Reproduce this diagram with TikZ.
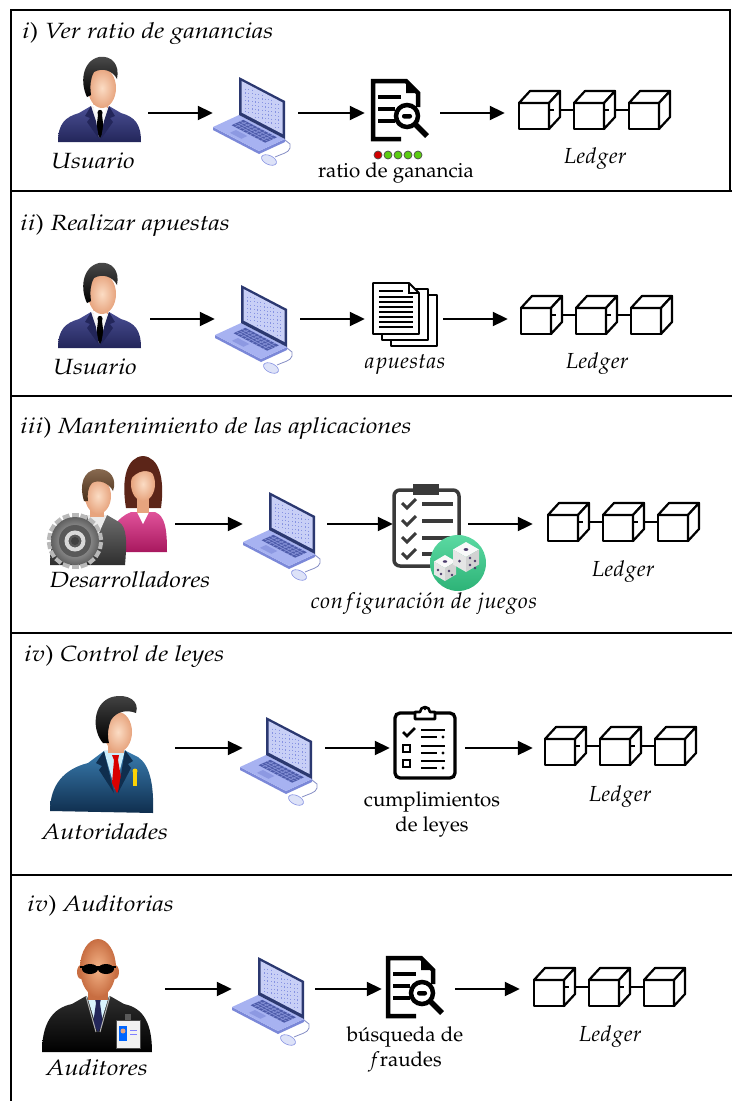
\documentclass[tikz,border=0pt]{standalone}
\usepackage[T1]{fontenc}
\usepackage{mathpazo}
\usetikzlibrary{arrows.meta,calc}

\definecolor{lapbase}{HTML}{A7B2F1}
\definecolor{lapedge}{HTML}{7B88D8}
\definecolor{lapkey}{HTML}{4D5BAA}
\definecolor{lapframe}{HTML}{2B3870}
\definecolor{lapscreen}{HTML}{C8CFF6}
\definecolor{lapbits}{HTML}{8793E2}
\definecolor{mousecol}{HTML}{DDE2F8}
\definecolor{skinL}{HTML}{FBDCC4}
\definecolor{skinD}{HTML}{E7A47E}
\definecolor{navyA}{HTML}{4A4F94}
\definecolor{navyB}{HTML}{23265A}
\definecolor{blueA}{HTML}{3A7DB0}
\definecolor{blueB}{HTML}{0F2E4E}
\definecolor{pinkA}{HTML}{E0529A}
\definecolor{pinkB}{HTML}{A8185E}
\definecolor{greyA}{HTML}{6E6E6E}
\definecolor{greyB}{HTML}{2E2E2E}
\definecolor{baldL}{HTML}{F4B488}
\definecolor{baldD}{HTML}{C86E42}
\definecolor{hairbrown}{HTML}{6A4424}
\definecolor{hairred}{HTML}{5C2518}
\definecolor{clipgrey}{HTML}{3A3A3A}
\definecolor{diceA}{HTML}{5BD9A2}
\definecolor{diceB}{HTML}{2DB377}
\definecolor{pipcol}{HTML}{4A3B6A}
\definecolor{ledred}{HTML}{D10000}
\definecolor{ledgreen}{HTML}{5BCB12}

% wide italic lettering used for headings and role names
\newcommand\wide[1]{\scalebox{1.16}[1]{#1}}

\tikzset{
  frame/.style={line width=2.4pt},
  arr/.style={line width=2pt,-{Triangle[length=15pt,width=14pt]}},
  hubbox/.style={inner sep=0pt,minimum height=30pt,draw=none},
  lbl/.style={anchor=base,inner sep=0pt},
  rolelbl/.style={anchor=base,inner sep=0pt,font=\fontsize{22}{26}\selectfont\itshape},
  mathlbl/.style={anchor=base,inner sep=0pt,font=\fontsize{21.8}{26}\selectfont},
  ttl/.style={anchor=base west,inner sep=0pt,font=\fontsize{22}{26}\selectfont},
  cubeline/.style={line width=2.2pt,line join=round},
  % three chained blocks of the ledger
  pics/cubes/.style={code={
    \draw[cubeline] (33,7) -- (55,7) (88,7) -- (110,7);
    \foreach \k in {0,1,2}{
      \begin{scope}[xshift=55*\k]
        \filldraw[cubeline,fill=white] (0,0) rectangle (30,26);
        \filldraw[cubeline,fill=white] (0,0) -- (11,-12) -- (41,-12) -- (30,0) -- cycle;
        \filldraw[cubeline,fill=white] (30,0) -- (41,-12) -- (41,14) -- (30,26) -- cycle;
      \end{scope}}
    \draw[cubeline] (30,7) -- (35,7) (85,7) -- (90,7);
  }},
  % laptop with mouse, origin at top left
  pics/laptop/.style={code={
    \draw[lapbits!70!gray,line width=0.8pt] (72,65) -- (77,69) -- (77,73) .. controls (76,78) and (68,79) .. (62,82);
    \filldraw[fill=mousecol,draw=lapbits,line width=0.6pt,rotate around={-25:(56,85)}] (56,85) ellipse [x radius=8,y radius=4.5];
    \fill[lapedge] (0,52) -- (46,76) -- (72,64) -- (72,67) -- (46,79) -- (0,55) -- cycle;
    \fill[lapbase] (0,52) -- (26,40) -- (72,64) -- (46,76) -- cycle;
    \fill[lapkey] (18.6,50.2) -- (30.3,44.8) -- (63.9,62.3) -- (52.2,67.7) -- cycle;
    \foreach \s in {0.56,0.67,0.78}
      \draw[lapbase!60!lapkey,line width=0.7pt] ({26*\s+6.9},{52-12*\s+3.6}) -- ({26*\s+40.5},{52-12*\s+21.1});
    \foreach \t in {0.23,0.31,...,0.85}
      \draw[lapbase!60!lapkey,line width=0.7pt] ({11.7+46*\t},{46.6+24*\t}) -- ({23.4+46*\t},{41.2+24*\t});
    \fill[lapedge!60!lapbase] (16.9,57.8) -- (22.9,55.0) -- (34.4,61.0) -- (28.4,63.8) -- cycle;
    \fill[lapframe] (26,40) -- (72,64) -- (72,26) -- (26,2) -- cycle;
    \fill[lapscreen] (28.5,37.5) -- (69.5,59) -- (69.5,27.5) -- (28.5,6) -- cycle;
    \foreach \u [count=\i] in {0.1,0.18,...,0.92}
      \draw[lapbits,line width=0.9pt,dash pattern=on 1.2pt off 2.6pt,dash phase=\i*1.3pt]
        ({28.5+41*\u},{9+21.5*\u}) -- ({28.5+41*\u},{34.5+21.5*\u});
  }},
  % document with magnifier, origin at centre
  pics/docsearch/.style={code={
    \fill[black] (6,-29) -- (6,-17) -- (18,-17) -- cycle;
    \draw[line width=4.5pt,line join=miter] (1,29) -- (-27,29) -- (-27,-29) -- (6,-29) -- (18,-17) -- (18,-3);
    \draw[line width=4pt] (-22,-13) -- (1,-13) (-22,-1) -- (-5,-1) (-22,11) -- (-5,11);
    \draw[line width=4.5pt,fill=white] (7,6) circle [radius=11];
    \fill[black,rounded corners=2pt] (2,4) rectangle (12,8.5);
    \draw[line width=5.5pt] (15,14) -- (27,26);
  }},
  % stack of sheets, origin at top left
  pics/sheets/.style={code={
    \filldraw[fill=white,line width=1.8pt,line join=round] (18,12) rectangle (64,63);
    \filldraw[fill=white,line width=1.8pt,line join=round] (9,6) rectangle (55,57);
    \filldraw[fill=white,line width=1.8pt,line join=round] (0,0) -- (36,0) -- (46,10) -- (46,51) -- (0,51) -- cycle;
    \draw[line width=1.5pt] (36,0) -- (36,10) -- (46,10);
    \draw[line width=1.6pt] (6,8) -- (30,8);
    \foreach \y in {14,19,...,45} \draw[line width=1.6pt] (6,\y) -- (40,\y);
  }},
  % checklist with dice, origin at top left
  pics/checklist/.style={code={
    \draw[clipgrey,line width=3.5pt,fill=white,rounded corners=6pt] (1,6) rectangle (66,82);
    \fill[clipgrey] (20,0) rectangle (46,11);
    \foreach \y in {19,36,53,69}{
      \draw[clipgrey,line width=3pt] (9,\y) -- (14,\y+5) -- (23,\y-4);
      \draw[clipgrey,line width=3.5pt] (29,\y+1) -- (60,\y+1);}
    \shade[top color=diceA,bottom color=diceB] (65,79) circle [radius=28];
    \begin{scope}[shift={(52,84)}]
      \fill[white!95!gray] (0,-13) -- (11,-6.5) -- (0,0) -- (-11,-6.5) -- cycle;
      \fill[gray!20] (-11,-6.5) -- (0,0) -- (0,13) -- (-11,6.5) -- cycle;
      \fill[gray!35] (0,0) -- (11,-6.5) -- (11,6.5) -- (0,13) -- cycle;
      \fill[pipcol] (0,-6.5) ellipse [x radius=2.2,y radius=1.3];
      \fill[pipcol] (-7,2) circle [radius=1.3] (-4,6) circle [radius=1.3] (4,3) circle [radius=1.3] (7,7) circle [radius=1.3];
    \end{scope}
    \begin{scope}[shift={(73,73)}]
      \fill[white!95!gray] (0,-15) -- (13,-7.5) -- (0,0) -- (-13,-7.5) -- cycle;
      \fill[gray!20] (-13,-7.5) -- (0,0) -- (0,15) -- (-13,7.5) -- cycle;
      \fill[gray!35] (0,0) -- (13,-7.5) -- (13,7.5) -- (0,15) -- cycle;
      \fill[pipcol] (0,-7.5) ellipse [x radius=2.4,y radius=1.4];
      \fill[pipcol] (-6.5,4) circle [radius=1.5];
      \fill[pipcol] (4,1) circle [radius=1.3] (9,4) circle [radius=1.3] (4,8) circle [radius=1.3] (9,11) circle [radius=1.3];
    \end{scope}
  }},
  % clipboard with law items, origin at top left
  pics/lawlist/.style={code={
    \draw[line width=3.3pt,fill=white,rounded corners=5pt] (2,10) rectangle (62,75);
    \filldraw[fill=white,line width=2.6pt,line join=round] (22,16) -- (22,9) -- (27,9) arc [start angle=180,end angle=360,radius=5] -- (42,9) -- (42,16) -- cycle;
    \fill (32,6) circle [radius=1.3];
    \draw[line width=2.8pt] (10,29) -- (14,33) -- (22,25);
    \draw[line width=2.4pt] (10,42) rectangle (17,49) (10,57) rectangle (17,64);
    \foreach \y in {27,43,58}{
      \draw[line width=2.6pt] (28,\y) -- (52,\y) (28,\y+7) -- (44,\y+7);
      \fill (50,\y+7) circle [radius=1.6];}
  }},
  % row of status lights
  pics/lights/.style={code={
    \filldraw[fill=ledred,draw=black!70,line width=0.7pt] (0,0) circle [radius=4];
    \foreach \i in {1,...,4}
      \filldraw[fill=ledgreen,draw=black!70,line width=0.7pt] (10*\i,0) circle [radius=4];
  }},
  % user in a suit, origin at face centre
  pics/user/.style={code={
    \shade[top color=navyA,bottom color=navyB] (-42,51) .. controls (-42,33) and (-35,26) .. (-21,22) -- (-9,15) -- (9,15) -- (21,22) .. controls (35,26) and (41,33) .. (41,51) -- cycle;
    \fill[white!92!gray] (-9,15) -- (-1,47) -- (9,15) -- cycle;
    \fill[skinD] (-7,6) rectangle (8,17);
    \fill[black] (-3,19) -- (3,19) -- (2,24) -- (4,40) -- (0,47) -- (-4,40) -- (-2,24) -- cycle;
    \fill[navyB] (-9,15) -- (-15,25) -- (-10,27) -- (-13,31) -- (-1,48) -- (-4,30) -- cycle;
    \fill[navyB] (9,15) -- (15,25) -- (10,27) -- (13,31) -- (1,48) -- (4,30) -- cycle;
    \fill[white] (-8,13) -- (-4,23) -- (0,17) -- (4,23) -- (8,13) -- (0,16) -- cycle;
    \shade[inner color=skinL,outer color=skinD] (2,-3) ellipse [x radius=14,y radius=20];
    \shade[top color=gray!60!black,bottom color=black] (-13,6) .. controls (-20,-8) and (-18,-30) .. (-1,-34) .. controls (12,-36) and (20,-26) .. (17,-12) .. controls (13,-20) and (3,-24) .. (-6,-19) .. controls (-10,-12) and (-10,-4) .. (-9,4) -- cycle;
  }},
  % two developers and a gear, origin at the man's face
  pics/developers/.style={code={
    \begin{scope}[shift={(46,-13)}]
      \fill[hairred] (-17,24) .. controls (-22,-6) and (-16,-27) .. (0,-28) .. controls (16,-27) and (22,-6) .. (18,24) -- cycle;
      \shade[top color=pinkA,bottom color=pinkB] (-34,68) .. controls (-34,44) and (-26,34) .. (-12,28) -- (12,28) .. controls (22,32) and (24,44) .. (24,68) -- cycle;
      \fill[white] (-6,28) -- (0,40) -- (6,28) -- cycle;
      \fill[skinD] (-6,14) rectangle (6,29);
      \shade[inner color=skinL,outer color=skinD] (0,0) ellipse [x radius=12,y radius=17];
      \fill[hairred] (-13,-4) .. controls (-12,-20) and (6,-26) .. (13,-8) .. controls (6,-16) and (-6,-14) .. (-13,-4) -- cycle;
    \end{scope}
    \shade[top color=greyA,bottom color=greyB] (-47,68) .. controls (-47,40) and (-38,30) .. (-22,25) -- (-10,18) -- (10,18) -- (22,25) .. controls (30,30) and (30,45) .. (28,68) -- cycle;
    \fill[gray!15] (-10,18) -- (-2,45) -- (10,18) -- cycle;
    \fill[skinD] (-7,8) rectangle (7,20);
    \shade[inner color=skinL,outer color=skinD] (1,-1) ellipse [x radius=13,y radius=18];
    \shade[top color=hairbrown!80!white,bottom color=hairbrown!70!black] (-13,4) .. controls (-18,-12) and (-14,-27) .. (1,-28) .. controls (14,-28) and (20,-18) .. (16,-6) .. controls (12,-14) and (2,-18) .. (-5,-14) .. controls (-9,-10) and (-10,-2) .. (-9,4) -- cycle;
    \begin{scope}[shift={(-22,44)}]
      \foreach \a in {0,20,...,340}
        \fill[gray!55,rotate=\a] (-3.5,-28) rectangle (3.5,-21);
      \shade[inner color=gray!40,outer color=gray!75!black] (0,0) circle [radius=24];
      \fill[gray!70!black] (0,0) circle [radius=16];
      \draw[gray!30,line width=4pt] (0,0) circle [radius=8.5];
      \fill[gray!50!black] (0,0) circle [radius=4];
    \end{scope}
  }},
  % official with red tie, origin at face centre
  pics/official/.style={code={
    \shade[top color=blueA,bottom color=blueB] (-66,78) .. controls (-66,52) and (-52,36) .. (-28,30) -- (-12,18) -- (8,17) -- (22,24) .. controls (34,32) and (38,52) .. (37,80) -- cycle;
    \fill[cyan!20!white] (-12,18) -- (-1,56) -- (9,17) -- cycle;
    \fill[red!85!black] (-4,22) -- (3,22) -- (2,27) -- (6,50) -- (1,60) -- (-4,50) -- (-2,27) -- cycle;
    \fill[blueB] (-12,18) -- (-20,30) -- (-14,33) -- (-17,37) -- (-2,60) -- cycle;
    \fill[blueB] (9,17) -- (17,28) -- (12,31) -- (15,35) -- (2,60) -- cycle;
    \fill[skinD] (-8,8) rectangle (8,20);
    \shade[inner color=skinL,outer color=skinD] (2,-1) ellipse [x radius=14,y radius=20];
    \shade[top color=gray!55!black,bottom color=black] (-13,10) .. controls (-24,-2) and (-24,-30) .. (-4,-36) .. controls (12,-40) and (24,-32) .. (20,-20) .. controls (10,-24) and (0,-21) .. (-5,-13) .. controls (-8,-6) and (-9,2) .. (-7,10) -- cycle;
    \fill[yellow!70!orange] (17,40) rectangle (21,53);
    \fill[yellow!70!orange] (19,38) circle [radius=2.5];
  }},
  % bald auditor with sunglasses and badge, origin at head centre
  pics/auditor/.style={code={
    \shade[top color=greyB,bottom color=black] (-56,80) .. controls (-56,52) and (-46,36) .. (-26,32) -- (-12,24) -- (12,24) -- (26,32) .. controls (46,36) and (54,52) .. (54,80) -- cycle;
    \fill[cyan!15!white] (-11,24) -- (0,60) -- (11,24) -- cycle;
    \fill[navyB] (-3,27) -- (3,27) -- (2,31) -- (5,52) -- (0,60) -- (-5,52) -- (-2,31) -- cycle;
    \draw[gray!60,line width=1pt] (-12,24) -- (-2,60) (12,24) -- (2,60);
    \fill[baldD] (-10,14) rectangle (10,28);
    \fill[baldD] (-17,0) ellipse [x radius=4,y radius=7] (17,0) ellipse [x radius=4,y radius=7];
    \shade[inner color=baldL,outer color=baldD] (0,-4) ellipse [x radius=18,y radius=29];
    \fill[black] (-8,-3) ellipse [x radius=8,y radius=5] (8,-3) ellipse [x radius=8,y radius=5];
    \draw[black,line width=1.5pt] (-18,-5) -- (18,-5);
    \begin{scope}[shift={(30,62)}]
      \fill[gray!70!black] (-3,-20) rectangle (3,-13);
      \filldraw[fill=gray!10,draw=gray!60!black,line width=1pt] (-12,-14) rectangle (12,14);
      \fill[blue!60!cyan] (-9,-8) rectangle (-1,7);
      \fill[skinD] (-5,-3) circle [radius=2.5];
      \draw[blue!50,line width=1pt] (2,-4) -- (9,-4) (2,0) -- (9,0);
    \end{scope}
  }},
}

% a box whose west and east sides end the connectors of a row
\newcommand\hub[4]{\node[hubbox,minimum width={(#3)-(#2)}] (#1) at ({((#2)+(#3))/2},#4) {};}

\begin{document}
\begin{tikzpicture}[x=1pt,y=-1pt,every node/.style={font=\fontsize{20.5}{24}\selectfont}]
\useasboundingbox (0,0) rectangle (732,1101);

% panel frame
\draw[frame] (11,1101) -- (11,10) -- (730,10) -- (730,191);
\foreach \y in {191,396,633,875} \draw[frame] (11,\y) -- (732,\y);

% ---------- i) ----------
\node[ttl] (t1) at (22,38) {\wide{$i$) \textit{Ver ratio de ganancias}}};
\hub{u1}{50}{148}{113} \hub{l1}{213}{298}{113} \hub{d1}{365}{440}{113} \hub{g1}{505}{700}{113}
\pic at (100,91) {user};
\pic at (213,75) {laptop};
\pic at (400,110) {docsearch};
\pic at (378,155) {lights};
\pic at (519,103) {cubes};
\node[rolelbl] (n1a) at (93,168) {\wide{Usuario}};
\node[lbl] (n1b) at (396,177) {ratio de ganancia};
\node[mathlbl] (n1c) at (595,163) {$Ledger$};
\draw[arr] (u1.east) -- (l1.west);
\draw[arr] (l1.east) -- (d1.west);
\draw[arr] (d1.east) -- (g1.west);

% ---------- ii) ----------
\node[ttl] (t2) at (20,230) {\wide{$ii$) \textit{Realizar apuestas}}};
\hub{u2}{50}{150}{319} \hub{l2}{215}{300}{319} \hub{d2}{365}{443}{319} \hub{g2}{508}{700}{319}
\pic at (100,297) {user};
\pic at (215,283) {laptop};
\pic at (373,283) {sheets};
\pic at (521,308) {cubes};
\node[rolelbl] (n2a) at (95,374) {\wide{Usuario}};
\node[mathlbl] (n2b) at (405,368) {$apuestas$};
\node[mathlbl] (n2c) at (597,368) {$Ledger$};
\draw[arr] (u2.east) -- (l2.west);
\draw[arr] (l2.east) -- (d2.west);
\draw[arr] (d2.east) -- (g2.west);

% ---------- iii) ----------
\node[ttl] (t3) at (20,433) {\wide{$iii$) \textit{Mantenimiento de las aplicaciones}}};
\hub{u3}{40}{175}{524} \hub{l3}{243}{327}{524} \hub{d3}{393}{468}{524} \hub{g3}{533}{710}{524}
\pic at (97,497) {developers};
\pic at (243,490) {laptop};
\pic at (393,484) {checklist};
\pic at (548,515) {cubes};
\node[rolelbl] (n3a) at (130,587) {\wide{Desarrolladores}};
\node[mathlbl] (n3b) at (424,608) {$configuraci\acute{o}n\ de\ juegos$};
\node[mathlbl] (n3c) at (623,576) {$Ledger$};
\draw[arr] (u3.east) -- (l3.west);
\draw[arr] (l3.east) -- (d3.west);
\draw[arr] (d3.east) -- (g3.west);

% ---------- iv) control ----------
\node[ttl] (t4) at (24,661) {\wide{$iv$) \textit{Control de leyes}}};
\hub{u4}{40}{175}{748} \hub{l4}{243}{325}{748} \hub{d4}{390}{465}{748} \hub{g4}{533}{710}{748}
\pic at (116,733) {official};
\pic at (240,715) {laptop};
\pic at (393,703) {lawlist};
\pic at (545,739) {cubes};
\node[rolelbl] (n4a) at (105,839) {\wide{Autoridades}};
\node[lbl] (n4b) at (432,806) {cumplimientos};
\node[lbl] (n4d) at (432,831) {de leyes};
\node[mathlbl] (n4c) at (620,801) {$Ledger$};
\draw[arr] (u4.east) -- (l4.west);
\draw[arr] (l4.east) -- (d4.west);
\draw[arr] (d4.east) -- (g4.west);

% ---------- iv) audits ----------
\node[ttl] (t5) at (27,911) {\wide{$iv$) \textit{Auditorias}}};
\hub{u5}{40}{165}{989} \hub{l5}{232}{315}{989} \hub{d5}{382}{455}{989} \hub{g5}{520}{700}{989}
\pic at (98,972) {auditor};
\pic at (232,955) {laptop};
\pic at (415,987) {docsearch};
\pic at (534,980) {cubes};
\node[rolelbl] (n5a) at (97,1075) {\wide{Auditores}};
\node[lbl] (n5b) at (405,1041) {b\'usqueda de};
\node[lbl] (n5d) at (405,1066) {$f$raudes};
\node[mathlbl] (n5c) at (610,1041) {$Ledger$};
\draw[arr] (u5.east) -- (l5.west);
\draw[arr] (l5.east) -- (d5.west);
\draw[arr] (d5.east) -- (g5.west);
\end{tikzpicture}
\end{document}
